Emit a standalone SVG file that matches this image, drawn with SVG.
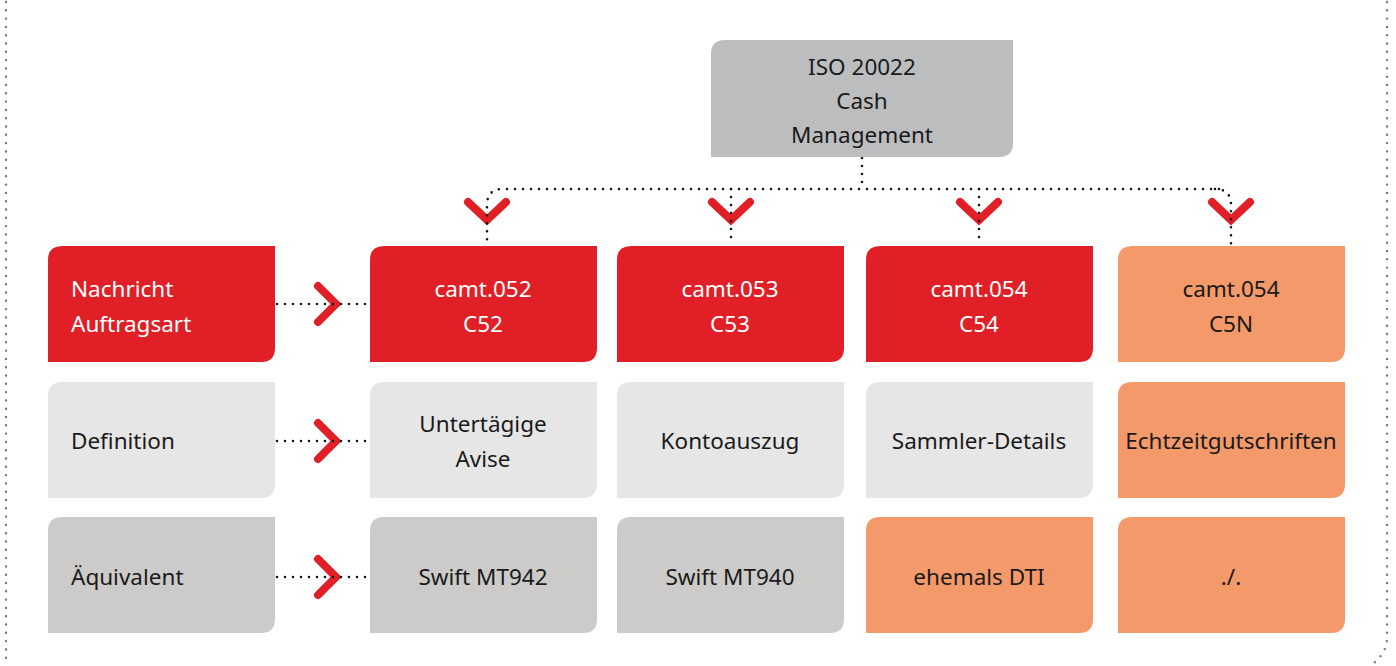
<svg xmlns="http://www.w3.org/2000/svg" width="1396" height="666" viewBox="0 0 1396 666">
<style>
text{font-family:"Noto Sans","Liberation Sans",sans-serif;font-size:22.5px;fill:#1a1a1a}
.w{fill:#ffffff}
.c{text-anchor:middle}
.red{fill:#e01f26}
.org{fill:#f4996a}
.lg{fill:#e6e6e6}
.mg{fill:#cccbc9}
.iso{fill:#bcbdbf}
.dot{fill:none;stroke:#111;stroke-width:2.6;stroke-linecap:round;stroke-dasharray:0 8}
.frame{fill:none;stroke:#777;stroke-width:2.4;stroke-linecap:round;stroke-dasharray:0 8.3}
.chev{fill:none;stroke:#e01f26;stroke-width:8;stroke-linejoin:miter;stroke-linecap:round}
</style>
<defs>
<path id="box" d="M14,0 H227 V102 Q227,116 213,116 H0 V14 Q0,0 14,0 Z"/>
</defs>
<g id="frame">
<path class="frame" d="M6,2 V660"/>
<path class="frame" d="M1387,2 V638 Q1387,654 1370,666"/>
</g>
<g id="chevrons">
<polyline class="chev" points="468,202 487,220 506,202"/>
<polyline class="chev" points="712,202 731,220 750,202"/>
<polyline class="chev" points="960,202 979,220 998,202"/>
<polyline class="chev" points="1212,202 1231,220 1250,202"/>
<polyline class="chev" points="318,286 336,304 318,322"/>
<polyline class="chev" points="318,423 336,441 318,459"/>
<polyline class="chev" points="318,559 336,577 318,595"/>
</g>
<g id="connectors">
<path class="dot" d="M862,158 V189"/>
<path class="dot" d="M1219,189 H503 Q487,189 487,205 V244"/>
<path class="dot" d="M1215,189 Q1231,189 1231,205 V244"/>
<path class="dot" d="M731,189 V244"/>
<path class="dot" d="M979,189 V244"/>
<path class="dot" d="M277,304 H368"/>
<path class="dot" d="M277,441 H368"/>
<path class="dot" d="M277,577 H368"/>
</g>
<g id="iso">
<path class="iso" d="M725,40 H1013 V143 Q1013,157 999,157 H711 V54 Q711,40 725,40 Z"/>
<text class="c" x="862" y="75">ISO 20022</text>
<text class="c" x="862" y="109">Cash</text>
<text class="c" x="862" y="143">Management</text>
</g>
<g id="nachricht">
<use href="#box" class="red" x="48" y="246"/>
<text class="w" x="71" y="297">Nachricht</text>
<text class="w" x="71" y="332">Auftragsart</text>
</g>
<g id="definition">
<use href="#box" class="lg" x="48" y="382"/>
<text x="71" y="449">Definition</text>
</g>
<g id="aequivalent">
<use href="#box" class="mg" x="48" y="517"/>
<text x="71" y="585">Äquivalent</text>
</g>
<g id="c52">
<use href="#box" class="red" x="370" y="246"/>
<text class="w c" x="483" y="297">camt.052</text>
<text class="w c" x="483" y="332">C52</text>
</g>
<g id="c53">
<use href="#box" class="red" x="617" y="246"/>
<text class="w c" x="730" y="297">camt.053</text>
<text class="w c" x="730" y="332">C53</text>
</g>
<g id="c54">
<use href="#box" class="red" x="866" y="246"/>
<text class="w c" x="979" y="297">camt.054</text>
<text class="w c" x="979" y="332">C54</text>
</g>
<g id="c5n">
<use href="#box" class="org" x="1118" y="246"/>
<text class="c" x="1231" y="297">camt.054</text>
<text class="c" x="1231" y="332">C5N</text>
</g>
<g id="def52">
<use href="#box" class="lg" x="370" y="382"/>
<text class="c" x="483" y="432">Untertägige</text>
<text class="c" x="483" y="467">Avise</text>
</g>
<g id="def53">
<use href="#box" class="lg" x="617" y="382"/>
<text class="c" x="730" y="449">Kontoauszug</text>
</g>
<g id="def54">
<use href="#box" class="lg" x="866" y="382"/>
<text class="c" x="979" y="449">Sammler-Details</text>
</g>
<g id="def5n">
<use href="#box" class="org" x="1118" y="382"/>
<text class="c" x="1231" y="449">Echtzeitgutschriften</text>
</g>
<g id="eq52">
<use href="#box" class="mg" x="370" y="517"/>
<text class="c" x="483" y="585">Swift MT942</text>
</g>
<g id="eq53">
<use href="#box" class="mg" x="617" y="517"/>
<text class="c" x="730" y="585">Swift MT940</text>
</g>
<g id="eq54">
<use href="#box" class="org" x="866" y="517"/>
<text class="c" x="979" y="585">ehemals DTI</text>
</g>
<g id="eq5n">
<use href="#box" class="org" x="1118" y="517"/>
<text class="c" x="1231" y="585">./.</text>
</g>
</svg>
